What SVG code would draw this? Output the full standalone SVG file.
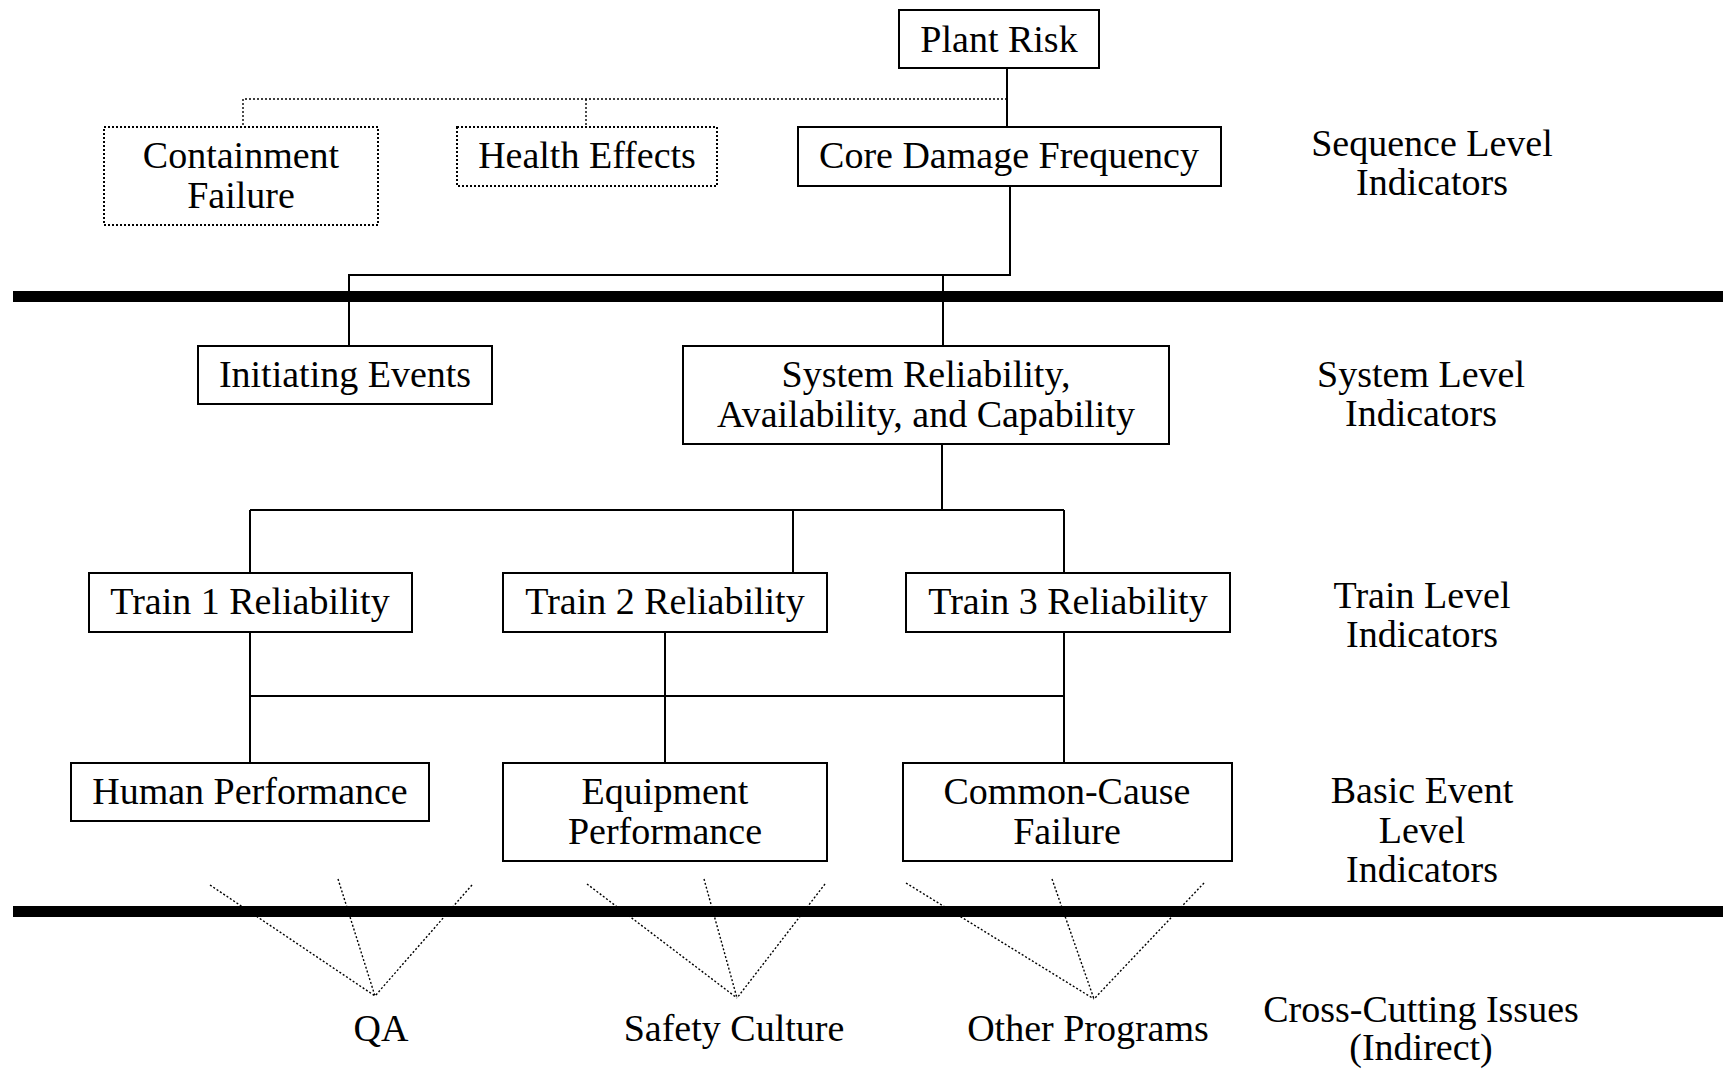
<svg xmlns="http://www.w3.org/2000/svg" width="1723" height="1071" viewBox="0 0 1723 1071">
  <style>
    .box { fill: #fff; stroke: #000; stroke-width: 2; }
    .dbox { fill: #fff; stroke: #000; stroke-width: 2; stroke-dasharray: 2 2; }
    .ln { fill: none; stroke: #000; stroke-width: 2; }
    .dl { fill: none; stroke: #000; stroke-width: 1.4; stroke-dasharray: 2 2; }
    .bar { fill: #000; }
    text { font-family: "Liberation Serif", "Times New Roman", serif; font-size: 38px; fill: #000; text-anchor: middle; }
  </style>

  <!-- level separators -->
  <rect class="bar" x="13" y="291" width="1710" height="11"/>
  <rect class="bar" x="13" y="906" width="1710" height="11"/>

  <!-- connectors -->
  <g id="connectors">
    <!-- plant risk to sequence level -->
    <path class="ln" d="M1007,68 V127"/>
    <path class="dl" d="M1007,99 H243 V127 M586,99 V127"/>
    <!-- CDF to system level -->
    <path class="ln" d="M1010,186 V275 H349 V346 M943,275 V346"/>
    <!-- system to trains -->
    <path class="ln" d="M942,444 V510 M250,510 H1064 M250,510 V573 M793,510 V573 M1064,510 V573"/>
    <!-- trains to basic events -->
    <path class="ln" d="M250,632 V763 M665,632 V763 M1064,632 V763 M250,696 H1064"/>
    <!-- cross-cutting fans -->
    <path class="dl" d="M210,885 L375,996 M338,879 L375,996 M472,885 L375,996"/>
    <path class="dl" d="M587,884 L737,998 M704,879 L737,998 M825,884 L737,998"/>
    <path class="dl" d="M906,883 L1094,999 M1052,879 L1094,999 M1204,883 L1094,999"/>
  </g>

  <!-- sequence level -->
  <g id="plant-risk">
    <rect class="box" x="899" y="10" width="200" height="58"/>
    <text x="999" y="52">Plant Risk</text>
  </g>
  <g id="containment-failure">
    <rect class="dbox" x="104" y="127" width="274" height="98"/>
    <text x="241" y="168">Containment</text>
    <text x="241" y="208">Failure</text>
  </g>
  <g id="health-effects">
    <rect class="dbox" x="457" y="127" width="260" height="59"/>
    <text x="587" y="168">Health Effects</text>
  </g>
  <g id="core-damage-frequency">
    <rect class="box" x="798" y="127" width="423" height="59"/>
    <text x="1009" y="168">Core Damage Frequency</text>
  </g>

  <!-- system level -->
  <g id="initiating-events">
    <rect class="box" x="198" y="346" width="294" height="58"/>
    <text x="345" y="387">Initiating Events</text>
  </g>
  <g id="system-reliability">
    <rect class="box" x="683" y="346" width="486" height="98"/>
    <text x="926" y="387">System Reliability,</text>
    <text x="926" y="427">Availability, and Capability</text>
  </g>

  <!-- train level -->
  <g id="train-1">
    <rect class="box" x="89" y="573" width="323" height="59"/>
    <text x="250" y="614">Train 1 Reliability</text>
  </g>
  <g id="train-2">
    <rect class="box" x="503" y="573" width="324" height="59"/>
    <text x="665" y="614">Train 2 Reliability</text>
  </g>
  <g id="train-3">
    <rect class="box" x="906" y="573" width="324" height="59"/>
    <text x="1068" y="614">Train 3 Reliability</text>
  </g>

  <!-- basic event level -->
  <g id="human-performance">
    <rect class="box" x="71" y="763" width="358" height="58"/>
    <text x="250" y="804">Human Performance</text>
  </g>
  <g id="equipment-performance">
    <rect class="box" x="503" y="763" width="324" height="98"/>
    <text x="665" y="804">Equipment</text>
    <text x="665" y="844">Performance</text>
  </g>
  <g id="common-cause-failure">
    <rect class="box" x="903" y="763" width="329" height="98"/>
    <text x="1067" y="804">Common-Cause</text>
    <text x="1067" y="844">Failure</text>
  </g>

  <!-- cross-cutting issues -->
  <g id="qa"><text x="381" y="1041">QA</text></g>
  <g id="safety-culture"><text x="734" y="1041">Safety Culture</text></g>
  <g id="other-programs"><text x="1088" y="1041">Other Programs</text></g>

  <!-- level labels -->
  <g id="level-labels">
    <text x="1432" y="156">Sequence Level</text>
    <text x="1432" y="195">Indicators</text>
    <text x="1421" y="387">System Level</text>
    <text x="1421" y="426">Indicators</text>
    <text x="1422" y="608">Train Level</text>
    <text x="1422" y="647">Indicators</text>
    <text x="1422" y="803">Basic Event</text>
    <text x="1422" y="843">Level</text>
    <text x="1422" y="882">Indicators</text>
    <text x="1421" y="1022">Cross-Cutting Issues</text>
    <text x="1421" y="1060">(Indirect)</text>
  </g>
</svg>
